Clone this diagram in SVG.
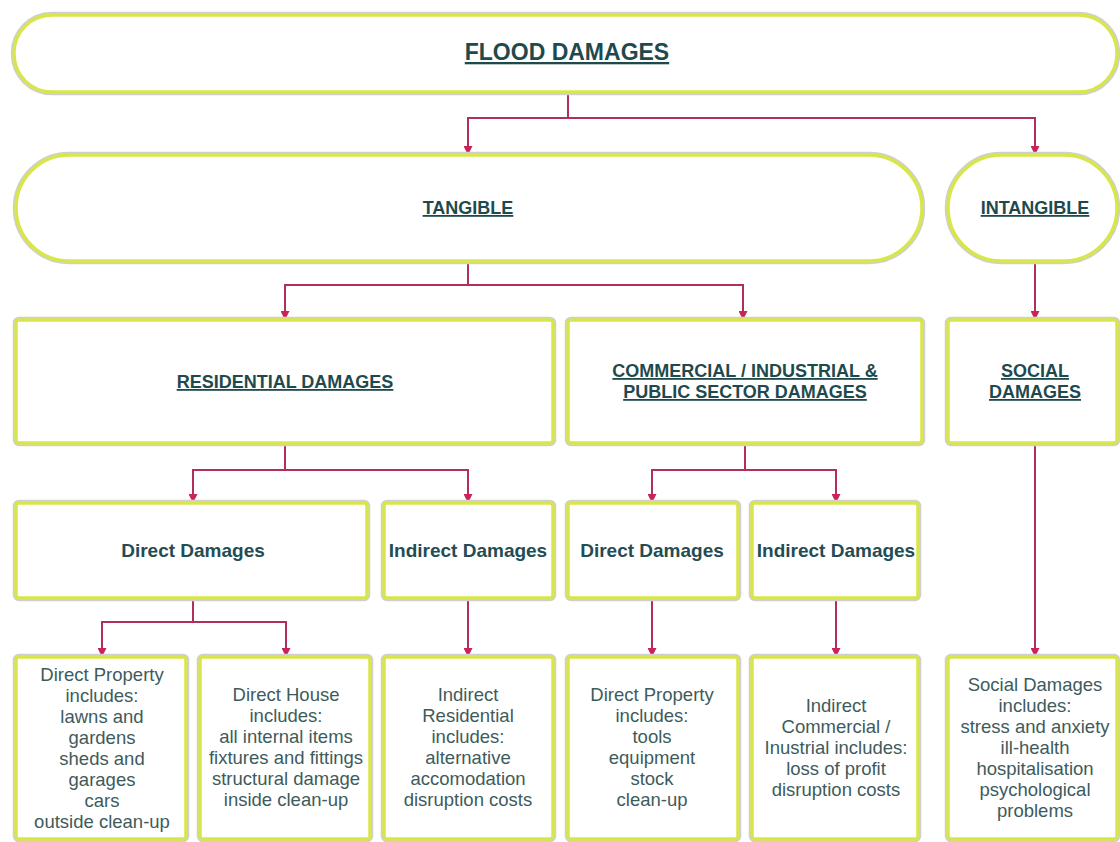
<svg xmlns="http://www.w3.org/2000/svg" width="1120" height="842" viewBox="0 0 1120 842">
<defs>
<marker id="arr" viewBox="0 0 10 10" refX="10" refY="5" markerWidth="9" markerHeight="9" markerUnits="userSpaceOnUse" orient="auto">
<path d="M0,0 L10,5 L0,10 Z" fill="#c8245a"/>
</marker>
</defs>
<style>
.box{fill:#ffffff;stroke:#d9e64a;stroke-width:3.5}
.edge{fill:none;stroke:#cfcfcf;stroke-width:6.5}
.conn{fill:none;stroke:#b0305a;stroke-width:2}
.t{font-family:"Liberation Sans",Arial,sans-serif;text-anchor:middle;font-weight:bold;fill:#1f4a4d;font-size:18px;text-decoration:underline}
.big{font-size:23px}
.h{font-family:"Liberation Sans",Arial,sans-serif;text-anchor:middle;font-weight:bold;fill:#244c52;font-size:19px}
.b{font-family:"Liberation Sans",Arial,sans-serif;text-anchor:middle;fill:#3e5b5c;font-size:18.5px}
</style>
<rect width="1120" height="842" fill="#ffffff"/>

<g id="connectors">
<path class="conn" d="M568,92 V118 H468 V155" marker-end="url(#arr)"/>
<path class="conn" d="M568,118 H1035 V155" marker-end="url(#arr)"/>
<path class="conn" d="M468,261 V285 H285 V320" marker-end="url(#arr)"/>
<path class="conn" d="M468,285 H743 V320" marker-end="url(#arr)"/>
<path class="conn" d="M1035,261 V320" marker-end="url(#arr)"/>
<path class="conn" d="M285,443 V470 H193 V503" marker-end="url(#arr)"/>
<path class="conn" d="M285,470 H468 V503" marker-end="url(#arr)"/>
<path class="conn" d="M745,443 V470 H652 V503" marker-end="url(#arr)"/>
<path class="conn" d="M745,470 H836 V503" marker-end="url(#arr)"/>
<path class="conn" d="M1035,443 V657" marker-end="url(#arr)"/>
<path class="conn" d="M193,598 V622 H102 V657" marker-end="url(#arr)"/>
<path class="conn" d="M193,622 H286 V657" marker-end="url(#arr)"/>
<path class="conn" d="M468,598 V657" marker-end="url(#arr)"/>
<path class="conn" d="M652,598 V657" marker-end="url(#arr)"/>
<path class="conn" d="M836,598 V657" marker-end="url(#arr)"/>
</g>

<g id="flood">
<rect class="edge" x="14" y="15" width="1103" height="77" rx="38"/>
<rect class="box" x="14" y="15" width="1103" height="77" rx="38"/>
<text class="t big" x="567" y="60">FLOOD DAMAGES</text>
</g>

<g id="tangible">
<rect class="edge" x="16" y="155" width="906" height="106" rx="53"/>
<rect class="box" x="16" y="155" width="906" height="106" rx="53"/>
<text class="t" x="468" y="214">TANGIBLE</text>
</g>

<g id="intangible">
<rect class="edge" x="948" y="155" width="169" height="106" rx="53"/>
<rect class="box" x="948" y="155" width="169" height="106" rx="53"/>
<text class="t" x="1035" y="214">INTANGIBLE</text>
</g>

<g id="residential">
<rect class="edge" x="16" y="320" width="537" height="123" rx="3"/>
<rect class="box" x="16" y="320" width="537" height="123" rx="3"/>
<text class="t" x="285" y="388">RESIDENTIAL DAMAGES</text>
</g>

<g id="commercial">
<rect class="edge" x="568" y="320" width="354" height="123" rx="3"/>
<rect class="box" x="568" y="320" width="354" height="123" rx="3"/>
<text class="t" x="745" y="377">COMMERCIAL / INDUSTRIAL &amp;</text>
<text class="t" x="745" y="398">PUBLIC SECTOR DAMAGES</text>
</g>

<g id="social">
<rect class="edge" x="948" y="320" width="169" height="123" rx="3"/>
<rect class="box" x="948" y="320" width="169" height="123" rx="3"/>
<text class="t" x="1035" y="377">SOCIAL</text>
<text class="t" x="1035" y="398">DAMAGES</text>
</g>

<g id="res-direct">
<rect class="edge" x="16" y="503" width="351" height="95" rx="3"/>
<rect class="box" x="16" y="503" width="351" height="95" rx="3"/>
<text class="h" x="193" y="557">Direct Damages</text>
</g>

<g id="res-indirect">
<rect class="edge" x="384" y="503" width="169" height="95" rx="3"/>
<rect class="box" x="384" y="503" width="169" height="95" rx="3"/>
<text class="h" x="468" y="557">Indirect Damages</text>
</g>

<g id="com-direct">
<rect class="edge" x="568" y="503" width="170" height="95" rx="3"/>
<rect class="box" x="568" y="503" width="170" height="95" rx="3"/>
<text class="h" x="652" y="557">Direct Damages</text>
</g>

<g id="com-indirect">
<rect class="edge" x="752" y="503" width="166" height="95" rx="3"/>
<rect class="box" x="752" y="503" width="166" height="95" rx="3"/>
<text class="h" x="836" y="557">Indirect Damages</text>
</g>

<g id="direct-property-res">
<rect class="edge" x="16" y="657" width="170" height="182" rx="3"/>
<rect class="box" x="16" y="657" width="170" height="182" rx="3"/>
<text class="b" x="102" y="681">Direct Property</text>
<text class="b" x="102" y="702">includes:</text>
<text class="b" x="102" y="723">lawns and</text>
<text class="b" x="102" y="744">gardens</text>
<text class="b" x="102" y="765">sheds and</text>
<text class="b" x="102" y="786">garages</text>
<text class="b" x="102" y="807">cars</text>
<text class="b" x="102" y="828">outside clean-up</text>
</g>

<g id="direct-house">
<rect class="edge" x="200" y="657" width="170" height="182" rx="3"/>
<rect class="box" x="200" y="657" width="170" height="182" rx="3"/>
<text class="b" x="286" y="701">Direct House</text>
<text class="b" x="286" y="722">includes:</text>
<text class="b" x="286" y="743">all internal items</text>
<text class="b" x="286" y="764">fixtures and fittings</text>
<text class="b" x="286" y="785">structural damage</text>
<text class="b" x="286" y="806">inside clean-up</text>
</g>

<g id="indirect-residential">
<rect class="edge" x="384" y="657" width="169" height="182" rx="3"/>
<rect class="box" x="384" y="657" width="169" height="182" rx="3"/>
<text class="b" x="468" y="701">Indirect</text>
<text class="b" x="468" y="722">Residential</text>
<text class="b" x="468" y="743">includes:</text>
<text class="b" x="468" y="764">alternative</text>
<text class="b" x="468" y="785">accomodation</text>
<text class="b" x="468" y="806">disruption costs</text>
</g>

<g id="direct-property-com">
<rect class="edge" x="568" y="657" width="170" height="182" rx="3"/>
<rect class="box" x="568" y="657" width="170" height="182" rx="3"/>
<text class="b" x="652" y="701">Direct Property</text>
<text class="b" x="652" y="722">includes:</text>
<text class="b" x="652" y="743">tools</text>
<text class="b" x="652" y="764">equipment</text>
<text class="b" x="652" y="785">stock</text>
<text class="b" x="652" y="806">clean-up</text>
</g>

<g id="indirect-commercial">
<rect class="edge" x="752" y="657" width="166" height="182" rx="3"/>
<rect class="box" x="752" y="657" width="166" height="182" rx="3"/>
<text class="b" x="836" y="712">Indirect</text>
<text class="b" x="836" y="733">Commercial /</text>
<text class="b" x="836" y="754">Inustrial includes:</text>
<text class="b" x="836" y="775">loss of profit</text>
<text class="b" x="836" y="796">disruption costs</text>
</g>

<g id="social-detail">
<rect class="edge" x="948" y="657" width="169" height="182" rx="3"/>
<rect class="box" x="948" y="657" width="169" height="182" rx="3"/>
<text class="b" x="1035" y="691">Social Damages</text>
<text class="b" x="1035" y="712">includes:</text>
<text class="b" x="1035" y="733">stress and anxiety</text>
<text class="b" x="1035" y="754">ill-health</text>
<text class="b" x="1035" y="775">hospitalisation</text>
<text class="b" x="1035" y="796">psychological</text>
<text class="b" x="1035" y="817">problems</text>
</g>
</svg>
